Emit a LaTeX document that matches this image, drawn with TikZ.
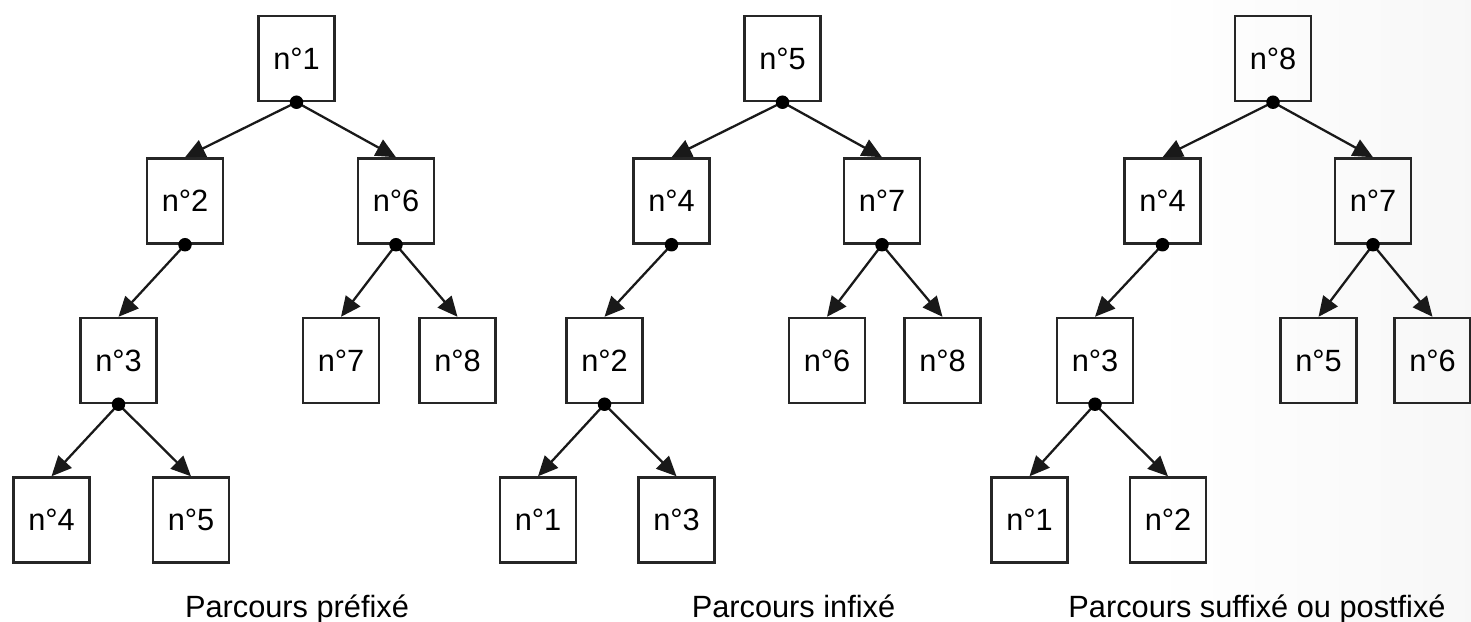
\documentclass[tikz,border=0pt]{standalone}
\usepackage{fontspec}
\setmainfont{Liberation Sans}
\usetikzlibrary{arrows.meta}
\begin{document}
\begin{tikzpicture}[x=0.02cm,y=-0.02cm,
  box/.style={draw=black!85, line width=1.4pt, minimum width=1.52cm, minimum height=1.70cm, inner sep=0pt, font=\fontsize{17.5}{20}\selectfont},
  edge/.style={line width=1.3pt, black!90, -{Triangle[length=0.40cm,width=0.36cm]}},
  dotmark/.style={circle, fill=black, inner sep=0pt, minimum size=0.27cm},
  caption/.style={anchor=base, inner sep=0pt, font=\fontsize{17.5}{20}\selectfont}]
\useasboundingbox (0,0) rectangle (1471,622);
\fill[white] (0,0) rectangle (1471,622);
\shade[left color=white, right color=black!3] (1150,0) rectangle (1471,622);
% Tree 1
\node[box] (a1) at (296.5,58.5) {n°1};
\node[box] (a2) at (185,201) {n°2};
\node[box] (a6) at (396,201) {n°6};
\node[box] (a3) at (118.5,360.5) {n°3};
\node[box] (a7) at (341,360.5) {n°7};
\node[box] (a8) at (457.5,360.5) {n°8};
\node[box] (a4) at (51.5,520) {n°4};
\node[box] (a5) at (191,520) {n°5};
% Tree 2
\node[box] (b5) at (782.5,58.5) {n°5};
\node[box] (b4) at (671.5,201) {n°4};
\node[box] (b7) at (882,201) {n°7};
\node[box] (b2) at (604.5,360.5) {n°2};
\node[box] (b6) at (827,360.5) {n°6};
\node[box] (b8) at (942.5,360.5) {n°8};
\node[box] (b1) at (538,520) {n°1};
\node[box] (b3) at (676.5,520) {n°3};
% Tree 3
\node[box] (c8) at (1273,58.5) {n°8};
\node[box] (c4) at (1162.5,201) {n°4};
\node[box] (c7) at (1373,201) {n°7};
\node[box] (c3) at (1095,360.5) {n°3};
\node[box] (c5) at (1318.5,360.5) {n°5};
\node[box] (c6) at (1432.5,360.5) {n°6};
\node[box] (c1) at (1029.5,520) {n°1};
\node[box] (c2) at (1168,520) {n°2};
% Edges
\foreach \p/\c in {a1/a2,a1/a6,a2/a3,a6/a7,a6/a8,a3/a4,a3/a5,
                   b5/b4,b5/b7,b4/b2,b7/b6,b7/b8,b2/b1,b2/b3,
                   c8/c4,c8/c7,c4/c3,c7/c5,c7/c6,c3/c1,c3/c2}
  \draw[edge] (\p.south) -- (\c.north);
% Dots
\foreach \p in {a1,a2,a6,a3,b5,b4,b7,b2,c8,c4,c7,c3}
  \node[dotmark] (dot\p) at (\p.south) {};
% Captions
\node[caption] (l1) at (297,617) {Parcours préfixé};
\node[caption] (l2) at (793.5,617) {Parcours infixé};
\node[caption] (l3) at (1257,617) {Parcours suffixé ou postfixé};
\end{tikzpicture}
\end{document}
